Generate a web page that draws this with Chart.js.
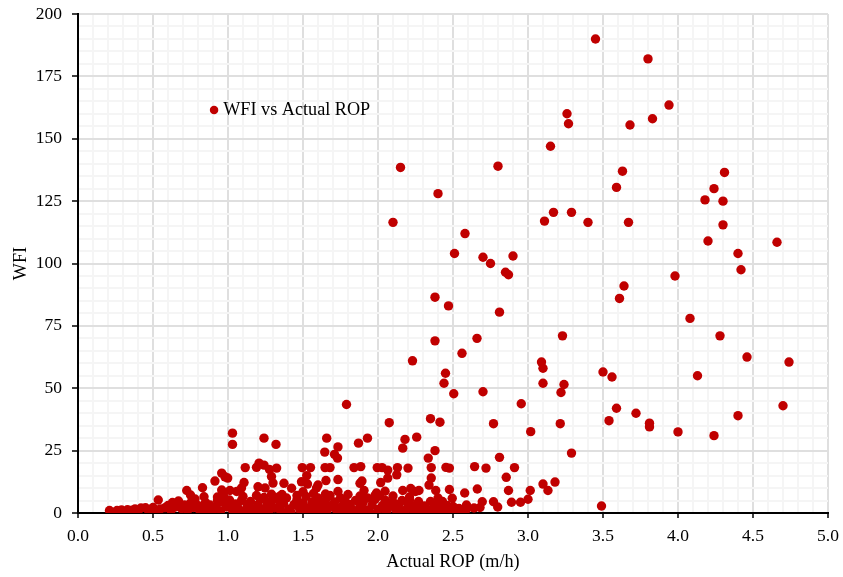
<!DOCTYPE html>
<html>
<head>
<meta charset="utf-8">
<script src="https://cdn.jsdelivr.net/npm/chart.js@4"></script>
<style>html,body{margin:0;padding:0;background:#fff}#w{width:843px;height:577px}</style>
</head>
<body>
<div id="w"><canvas id="c" width="843" height="577"></canvas></div>
<script>
const seriesName = 'WFI vs Actual ROP';
const xTitle = 'Actual ROP (m/h)';
const yTitle = 'WFI';
const xTickLabels = ['0.0','0.5','1.0','1.5','2.0','2.5','3.0','3.5','4.0','4.5','5.0'];
const yTickLabels = ['0','25','50','75','100','125','150','175','200'];

const upperPoints = [
[3.45,190],[3.80,182],[3.94,163.5],[3.26,160],[3.83,158],[3.27,156],[3.68,155.5],[3.15,147],[2.15,138.5],[2.80,139],
[3.63,137],[4.31,136.5],[3.59,130.5],[4.24,130],[2.40,128],[4.18,125.5],[4.30,125],[3.29,120.5],[3.17,120.5],[3.11,117],
[3.40,116.5],[2.10,116.5],[3.67,116.5],[4.30,115.5],[2.58,112],[4.20,109],[4.66,108.5],[2.51,104],[4.40,104],[2.70,102.5],
[2.90,103],[2.75,100],[4.42,97.5],[2.85,96.5],[2.87,95.5],[3.98,95],[3.64,91],[2.38,86.5],[3.61,86],[2.47,83],
[2.81,80.5],[4.08,78],[3.23,71],[4.28,71],[2.38,69],[2.66,70],[2.56,64],[2.23,61],[3.09,60.5],[4.74,60.5],
[4.46,62.5],[3.10,58],[3.50,56.5],[2.45,56],[3.56,54.5],[4.13,55],[2.44,52],[3.10,52],[3.24,51.5],[3.22,48.3],
[2.70,48.6],[2.505,47.8],[1.79,43.5],[2.955,43.8],[4.70,43],[3.59,42],[3.72,40],[4.40,39],[2.35,37.8],[3.54,37],
[3.81,36],[2.413,36.4],[2.77,35.8],[2.075,36.2],[3.215,35.8],[3.81,34.5],[3.018,32.6],[4.00,32.5],[4.24,31],[3.49,2.8]
];
const middlePoints = [
[1.03,32],[1.03,27.5],[1.24,30],[1.32,27.5],[1.658,30],[1.645,24.4],[1.71,23.5],[1.73,22],[1.733,26.5],[1.87,28],
[1.93,30],[2.165,26],[2.18,29.5],[2.258,30.4],[2.38,25],[2.335,22],[2.81,22.3],[3.29,24],[1.115,18.2],[1.19,18.3],
[1.207,20],[1.24,19.2],[1.276,17.5],[1.324,18],[1.29,14.6],[1.30,12],[0.958,16],[0.98,14.5],[0.998,14],[0.913,12.8],
[1.107,12.2],[1.495,18.2],[1.55,18.2],[1.525,15],[1.49,12.5],[1.53,11.6],[1.647,18.2],[1.68,18.2],[1.653,13],[1.733,13.4],
[1.84,18.2],[1.885,18.6],[1.88,11.9],[1.893,12.8],[1.995,18.2],[2.027,18.2],[2.065,17.2],[2.065,14],[2.018,12.2],[2.13,18.2],
[2.125,15.3],[2.2,18],[2.355,18.2],[2.355,14],[2.34,11.2],[2.453,18.3],[2.476,18],[2.644,18.6],[2.72,18],[2.91,18.2],
[2.855,14.3],[3.10,11.6],[3.18,12.4],[1.373,11.9],[1.2,10.5],[1.247,10],[1.6,11.2],[1.59,10],[1.424,9.9],[0.83,10.1],
[1.09,10],[0.958,9.2],[1.013,9],[1.058,8.6],[0.725,9],[0.75,7.2],[0.78,5.6],[0.84,6.5],[1.19,7],[1.29,7.5],
[1.34,6.5],[1.5,8.5],[1.733,8.6],[1.907,9],[2.047,8.7],[1.99,8],[2.165,9],[2.218,9.8],[2.273,9],[2.25,8.6],
[2.385,9],[2.476,9.4],[2.578,8],[2.662,9.6],[2.87,9],[3.015,9],[3.133,9],[2.495,5.9],[2.695,4.5],[2.77,4.5],
[2.798,2.4],[2.89,4.3],[2.95,4.3],[3.0,5.5],[2.59,3.2],[2.64,2],[2.68,2.2],[2.59,1.5],[0.535,5.2],[0.93,5]
];
const lowerPoints = [
[0.21,1],[0.26,1],[0.29,1.2],[0.33,1.3],[0.36,1.1],[0.38,1.6],[0.40,0.8],[0.42,2],[0.45,2.1],[0.47,1],[0.50,2.2],[0.52,1.2],
[0.55,1.6],[0.58,2.1],[0.60,3],[0.62,1],[0.63,4.2],[0.65,2.4],[0.67,4.8],[0.69,1.8],[0.71,3.2],[0.73,1],[0.75,4],[0.77,2.2],
[0.79,3.4],[0.81,1.2],[0.83,2.8],[0.85,4.2],[0.86,0.6],[0.88,3.2],[0.90,1.4],[0.92,2.6],[0.93,6.4],[0.95,0.8],[0.96,4.4],[0.97,7],
[0.99,2.4],[1.01,5.2],[1.03,1.2],[1.05,3.6],[1.07,1.8],[1.09,5],[1.11,0.8],[1.13,3],[1.15,4.6],[1.17,1.6],[1.18,0.4],[1.20,3.4],
[1.22,5.6],[1.24,1.4],[1.26,3.2],[1.27,0.2],[1.29,4.8],[1.31,2],[1.33,5.6],[1.35,1],[1.37,3.8],[1.39,6],[1.41,1.6],[1.42,0.4],
[1.44,3.4],[1.46,5.4],[1.48,1.2],[1.50,4],[1.52,6.6],[1.53,2],[1.55,0.6],[1.56,4.4],[1.58,1.8],[1.60,6],[1.61,0.2],[1.63,3],
[1.65,5],[1.66,1],[1.68,7],[1.70,2.4],[1.71,4.4],[1.73,0.8],[1.75,6],[1.76,2.8],[1.78,4.8],[1.79,0.6],[1.81,3.4],[1.83,1.4],
[1.85,5],[1.86,0.4],[1.88,2.8],[1.90,4.2],[1.92,1.2],[1.93,6],[1.95,0],[1.96,3.2],[1.98,5.4],[2.00,1.4],[2.01,6.8],[2.03,3],
[2.05,5],[2.06,0.8],[2.08,2.6],[2.10,4.4],[2.12,1.2],[2.14,3.4],[2.16,5],[2.18,1],[2.20,3.4],[2.21,5.2],[2.23,1.4],[2.25,3],
[2.27,4.6],[2.29,0.8],[2.31,2.8],[2.33,1.2],[2.35,4.6],[2.37,1.6],[2.39,3.2],[2.41,0.6],[2.43,4.6],[2.45,1.4],[2.46,3],[2.48,1],
[2.50,2.6],[2.52,1.2],[2.54,1.8],[2.56,0.8],[1.10,6.6],[1.24,6.2],[1.36,7.4],[1.46,7],[1.57,7.8],[1.65,7.6],[1.80,7.4],[1.88,6.8],
[1.98,7],[2.10,6.8],[2.21,6.4],[2.40,6],[1.02,3],[1.14,1.6],[1.28,2.2],[1.40,0.9],[1.47,2.6],[1.59,3.2],[1.72,1.4],[1.82,1.8],
[1.91,0.6],[2.04,1.6],[2.15,0.5],[2.26,1.4],[2.36,0.4],[2.44,2.4],[1.08,0.5],[1.21,1],[1.34,2.6],[1.51,0.8],[1.67,2.6],[1.77,1.6]
];

const toPoints = rows => rows.map(r => ({x: r[0], y: r[1]}));
const points = toPoints(upperPoints).concat(toPoints(middlePoints), toPoints(lowerPoints));

const red = '#c00000';
const xMajor = ctx => ctx.index % 5 === 0;
const yMajor = ctx => ctx.index % 5 === 0;

const fixBoxes = {
  id: 'fixBoxes',
  afterUpdate(chart) {
    const l = chart.legend;
    if (!l) return;
    l.left = 209; l.top = 96; l.right = 400; l.bottom = 125; l.width = 191; l.height = 29;
    l.adjustHitBoxes();
  }
};

new Chart(document.getElementById('c'), {
  type: 'scatter',
  data: { datasets: [{
    label: seriesName,
    data: points,
    backgroundColor: red,
    borderColor: red,
    borderWidth: 0,
    pointRadius: 4.7,
    pointStyle: 'circle'
  }]},
  plugins: [fixBoxes],
  options: {
    responsive: false,
    animation: false,
    events: [],
    layout: { padding: { left: 0, top: 14, right: 15, bottom: 0 } },
    plugins: {
      tooltip: { enabled: false },
      legend: {
        position: 'chartArea',
        align: 'start',
        labels: {
          usePointStyle: true, boxWidth: 0.1, boxHeight: 6, padding: 5,
          color: '#000',
          font: { family: '"Liberation Serif"', size: 18.2 }
        }
      }
    },
    scales: {
      x: {
        type: 'linear', min: 0, max: 5,
        afterFit(s) { s.height = 64; s.paddingLeft = 0; s.paddingRight = 0; },
        afterBuildTicks(s) { s.ticks = s.ticks.map((t, i) => ({value: i / 10})); },
        border: { color: '#000', width: 2 },
        grid: {
          color: c => xMajor(c) ? '#dfdfdf' : '#f5f5f5',
          lineWidth: 2,
          tickLength: 5,
          tickColor: c => xMajor(c) ? '#000' : 'rgba(0,0,0,0)',
          tickWidth: 1.5
        },
        ticks: {
          stepSize: 0.1, autoSkip: false, maxRotation: 0, padding: 8,
          color: '#000',
          font: { family: '"Liberation Serif"', size: 17.5 },
          callback: (v, i) => i % 5 === 0 ? xTickLabels[i / 5] : ''
        },
        title: {
          display: true, text: xTitle, color: '#000', padding: { top: 3, bottom: 4 },
          font: { family: '"Liberation Serif"', size: 18.2 }
        }
      },
      y: {
        type: 'linear', min: 0, max: 200,
        afterFit(s) { s.width = 78; s.paddingTop = 0; s.paddingBottom = 0; },
        border: { color: '#000', width: 2 },
        grid: {
          color: c => yMajor(c) ? '#dfdfdf' : '#f5f5f5',
          lineWidth: 2,
          tickLength: 6,
          tickColor: c => yMajor(c) ? '#000' : 'rgba(0,0,0,0)',
          tickWidth: 1.5
        },
        ticks: {
          stepSize: 5, autoSkip: false, padding: 10,
          color: '#000',
          font: { family: '"Liberation Serif"', size: 17.5 },
          callback: (v, i) => i % 5 === 0 ? yTickLabels[i / 5] : ''
        },
        title: {
          display: true, text: yTitle, color: '#000', padding: { top: 10, bottom: 0 },
          font: { family: '"Liberation Serif"', size: 18.2 }
        }
      }
    }
  }
});
</script>
</body>
</html>
